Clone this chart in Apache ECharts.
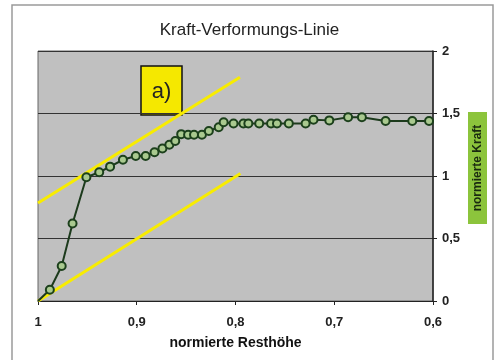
<!DOCTYPE html>
<html>
<head>
<meta charset="utf-8">
<script src="https://cdn.jsdelivr.net/npm/echarts@6/dist/echarts.min.js"></script>
<style>html,body{margin:0;padding:0;background:#fff;}#c{width:499px;height:360px;}</style>
</head>
<body>
<div id="c"></div>
<script>
var titleText = 'Kraft-Verformungs-Linie';
var xName = 'normierte Resthöhe';
var yName = 'normierte Kraft';
var annotationText = 'a)';
var resthoehe = [1, 0.988, 0.976, 0.965, 0.951, 0.938, 0.927, 0.914, 0.901, 0.891, 0.882, 0.874, 0.867, 0.861, 0.855, 0.848, 0.842, 0.834, 0.827, 0.817, 0.812, 0.802, 0.792, 0.787, 0.776, 0.764, 0.758, 0.746, 0.729, 0.721, 0.705, 0.686, 0.672, 0.648, 0.621, 0.604];
var kraft = [0, 0.09, 0.28, 0.62, 0.99, 1.03, 1.075, 1.13, 1.16, 1.16, 1.19, 1.22, 1.25, 1.28, 1.335, 1.33, 1.33, 1.33, 1.36, 1.39, 1.43, 1.42, 1.42, 1.42, 1.42, 1.42, 1.42, 1.42, 1.42, 1.45, 1.445, 1.47, 1.47, 1.44, 1.44, 1.44];
var upperLineX = [1, 0.7955];
var upperLineY = [0.784, 1.79];
var lowerLineX = [1, 0.795];
var lowerLineY = [0.0, 1.02];

var font = '"Liberation Sans", Arial, sans-serif';
function pairs(xs, ys) { return xs.map(function (x, i) { return [x, ys[i]]; }); }
var mainData = resthoehe.map(function (x, i) {
  var d = { value: [x, kraft[i]] };
  if (i === 0) d.symbol = 'none';
  return d;
});
function fmt(v) { return String(Math.round(v * 10) / 10).replace('.', ','); }

var chart = echarts.init(document.getElementById('c'), null, { renderer: 'canvas' });
chart.setOption({
  animation: false,
  backgroundColor: '#fff',
  title: {
    text: titleText, left: 'center', top: 17,
    textStyle: { fontFamily: font, fontSize: 17, fontWeight: 'normal', color: '#222' }
  },
  grid: {
    left: 38, right: 66, top: 51, bottom: 59,
    outerBoundsMode: 'none', containLabel: false,
    show: true, backgroundColor: '#c0c0c0', borderColor: '#666', borderWidth: 1
  },
  xAxis: {
    type: 'value', inverse: true, min: 0.6, max: 1, interval: 0.1,
    name: xName, nameLocation: 'middle', nameGap: 35,
    nameTextStyle: { fontFamily: font, fontSize: 14, fontWeight: 'bold', color: '#111' },
    axisLine: { lineStyle: { color: '#222', width: 1 } },
    axisTick: { show: true, length: 4, lineStyle: { color: '#222' } },
    axisLabel: { formatter: fmt, fontFamily: font, fontSize: 13, fontWeight: 'bold', color: '#222', margin: 15 },
    splitLine: { show: false }
  },
  yAxis: {
    type: 'value', position: 'right', min: 0, max: 2, interval: 0.5,
    axisLine: { show: true, lineStyle: { color: '#222', width: 1.5 } },
    axisTick: { show: true, length: 4, lineStyle: { color: '#222' } },
    axisLabel: { formatter: function (v) { return String(v).replace('.', ','); }, fontFamily: font, fontSize: 13, fontWeight: 'bold', color: '#222', margin: 9 },
    splitLine: { show: true, lineStyle: { color: '#333', width: 1 } }
  },
  series: [
    { type: 'line', data: pairs(upperLineX, upperLineY), symbol: 'none', z: 1,
      lineStyle: { color: '#f8ec00', width: 3 } },
    { type: 'line', data: pairs(lowerLineX, lowerLineY), symbol: 'none', z: 1,
      lineStyle: { color: '#f8ec00', width: 3 } },
    { type: 'line', data: mainData, z: 3,
      symbol: 'circle', symbolSize: 8,
      lineStyle: { color: '#1c3a1c', width: 2 },
      itemStyle: { color: '#a9c98f', borderColor: '#1c401c', borderWidth: 2 } }
  ],
  graphic: [
    { type: 'rect', shape: { x: 12, y: 5, width: 481, height: 370 }, style: { fill: 'none', stroke: '#9a9a9a', lineWidth: 1.5 }, z: -10 },
    { type: 'group', x: 141, y: 66, z: 10, children: [
      { type: 'rect', shape: { x: 0, y: 0, width: 41, height: 49 }, style: { fill: '#f5e800', stroke: '#111', lineWidth: 1.5 } },
      { type: 'text', x: 20.5, y: 26, style: { text: annotationText, fontFamily: font, fontSize: 22, fill: '#222', align: 'center', verticalAlign: 'middle' } }
    ] },
    { type: 'group', x: 477.5, y: 168, rotation: Math.PI / 2, z: 10, children: [
      { type: 'rect', shape: { x: -56, y: -9.5, width: 112, height: 19 }, style: { fill: '#8cc43c' } },
      { type: 'text', x: 0, y: 0, style: { text: yName, fontFamily: font, fontSize: 12, fontWeight: 'bold', fill: '#1a2a10', align: 'center', verticalAlign: 'middle' } }
    ] }
  ]
});
</script>
</body>
</html>
